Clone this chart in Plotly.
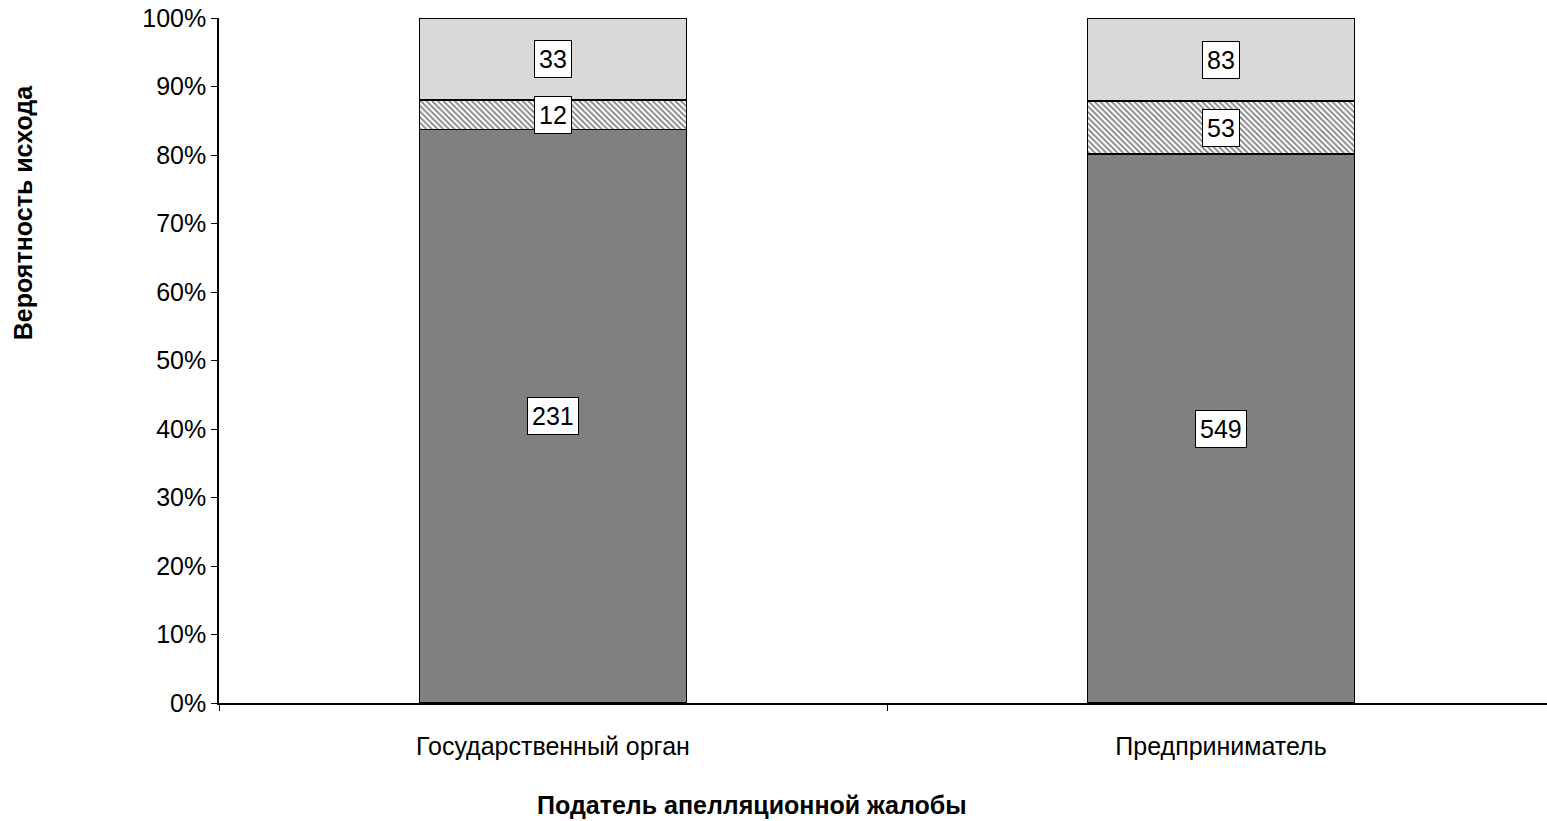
import plotly.graph_objects as go

categories = ["Государственный орган", "Предприниматель"]
series_names = ["Исход 1", "Исход 2", "Исход 3"]
values_bottom = [231, 549]
values_middle = [12, 53]
values_top = [33, 83]

FONT = "Liberation Sans, Arial, sans-serif"
FS = 25

fig = go.Figure()
fig.add_trace(go.Bar(x=categories, y=values_bottom, name=series_names[0], width=0.4,
                     marker=dict(color="#808080", line=dict(color="black", width=1.3))))
fig.add_trace(go.Bar(x=categories, y=values_middle, name=series_names[1], width=0.4,
                     marker=dict(color="white", line=dict(color="black", width=1.3),
                                 pattern=dict(shape="\\", fgcolor="black", bgcolor="white",
                                              size=4, solidity=0.45))))
fig.add_trace(go.Bar(x=categories, y=values_top, name=series_names[2], width=0.4,
                     marker=dict(color="#d9d9d9", line=dict(color="black", width=1.3))))

annotations = []
for i, cat in enumerate(categories):
    total = values_bottom[i] + values_middle[i] + values_top[i]
    base = 0.0
    for v in (values_bottom[i], values_middle[i], values_top[i]):
        pct = v / total * 100
        annotations.append(dict(x=cat, y=base + pct / 2, xref="x", yref="y", text=str(v),
                                showarrow=False, bgcolor="white", bordercolor="black",
                                borderwidth=1, borderpad=4,
                                font=dict(family=FONT, size=FS, color="black")))
        base += pct

annotations.append(dict(x=0.401, y=-0.149, xref="paper", yref="paper",
                        text="<b>Податель апелляционной жалобы</b>", showarrow=False,
                        xanchor="center", yanchor="middle",
                        font=dict(family=FONT, size=FS, color="black")))
annotations.append(dict(x=-0.148, y=0.717, xref="paper", yref="paper",
                        text="<b>Вероятность исхода</b>", showarrow=False, textangle=-90,
                        xanchor="center", yanchor="middle",
                        font=dict(family=FONT, size=FS, color="black")))

fig.update_layout(
    barmode="stack", barnorm="percent",
    width=1547, height=821,
    margin=dict(l=219, r=0, t=18, b=118),
    plot_bgcolor="white", paper_bgcolor="white",
    showlegend=False,
    annotations=annotations,
    font=dict(family=FONT, size=FS, color="black"),
    xaxis=dict(type="category", range=[-0.5, 1.488], tickson="boundaries",
               ticks="outside", ticklen=6, tickcolor="black",
               showline=True, linecolor="black", linewidth=2,
               showgrid=False, ticklabelstandoff=20,
               tickfont=dict(family=FONT, size=FS, color="black")),
    yaxis=dict(range=[0, 100], dtick=10, ticksuffix="%", ticks="outside", ticklen=6,
               tickcolor="black", showline=True, linecolor="black", linewidth=1.5,
               showgrid=False, zeroline=False,
               tickfont=dict(family=FONT, size=FS, color="black")),
)

fig.write_html("out.html", config={"displayModeBar": False},
               post_script="document.body.style.margin='0';document.body.style.overflow='hidden';")
